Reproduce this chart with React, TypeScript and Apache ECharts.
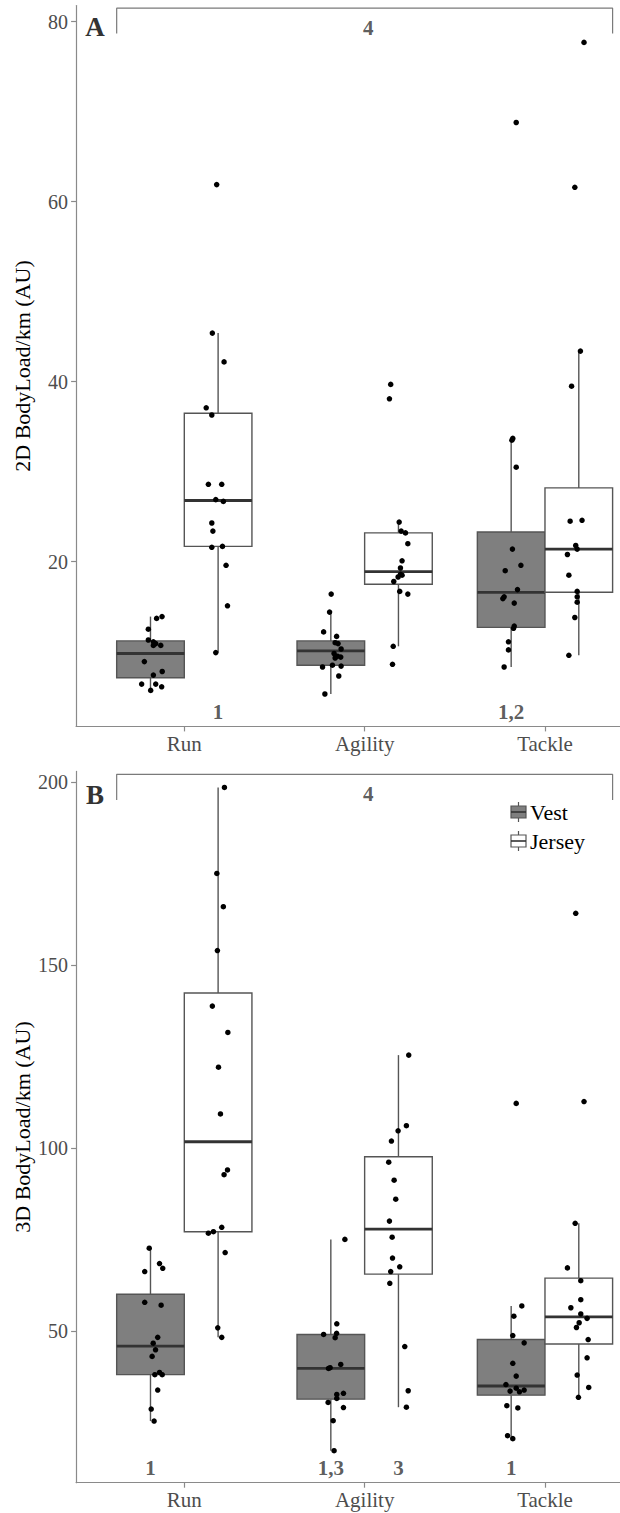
import React, { useEffect, useRef } from 'react';
import * as echarts from 'echarts';

const categories = ['Run', 'Agility', 'Tackle'];
const groupNames = ['Vest', 'Jersey'];
const yTicksA = [20, 40, 60, 80];
const yTicksB = [50, 100, 150, 200];
const xTickValues = [1, 2, 3];

// box stats per category: [lowerWhisker, q1, median, q3, upperWhisker]
const boxA_vest = [[5.7, 7.1, 9.8, 11.2, 13.9], [5.3, 8.5, 10.1, 11.2, 14.4], [8.3, 12.7, 16.6, 23.3, 33.7]];
const boxA_jersey = [[9.9, 21.7, 26.8, 36.5, 45.4], [10.6, 17.5, 18.9, 23.2, 24.4], [9.6, 16.6, 21.4, 28.2, 43.4]];
const boxB_vest = [[25.3, 38.0, 45.8, 60.0, 72.6], [17.2, 31.3, 39.7, 49.0, 75.0], [20.5, 32.4, 34.9, 47.6, 56.8]];
const boxB_jersey = [[48.2, 77.1, 101.7, 142.4, 198.6], [29.1, 65.5, 77.8, 97.6, 125.4], [31.8, 46.4, 53.8, 64.4, 79.4]];

// jittered points: [jitter (category units), value]
const ptsA_run_vest = [[0.034, 13.7], [0.064, 13.9], [-0.012, 12.5], [-0.012, 11.3], [0.016, 11.1], [0.029, 10.9], [0.057, 10.7], [0.016, 10.7], [-0.034, 8.9], [0.065, 7.8], [0.016, 7.4], [-0.049, 6.4], [0.029, 6.4], [0.062, 6.1], [0.001, 5.7]];
const ptsA_run_jersey = [[-0.032, 45.4], [0.033, 42.2], [-0.066, 37.1], [-0.035, 36.3], [-0.054, 28.6], [0.02, 28.6], [-0.013, 26.9], [0.029, 26.7], [-0.035, 24.3], [-0.029, 23.4], [-0.035, 21.6], [0.024, 21.7], [0.044, 19.6], [0.052, 15.1], [-0.013, 9.9], [-0.008, 61.9]];
const ptsA_agility_vest = [[0.002, 16.4], [-0.007, 14.4], [-0.04, 12.2], [0.032, 11.7], [0.024, 11.0], [0.04, 10.9], [0.057, 10.3], [0.018, 9.8], [0.037, 9.5], [0.055, 9.4], [0.024, 9.3], [-0.046, 8.3], [0.009, 8.5], [0.057, 8.4], [0.044, 7.3], [-0.033, 5.3]];
const ptsA_agility_jersey = [[-0.043, 39.7], [-0.05, 38.1], [0.004, 24.4], [0.015, 23.4], [0.039, 23.2], [0.052, 22.0], [0.02, 20.1], [0.011, 19.3], [0.011, 18.6], [-0.002, 18.3], [0.02, 18.5], [-0.026, 17.8], [0.007, 16.7], [0.052, 16.4], [-0.029, 10.6], [-0.033, 8.6]];
const ptsA_tackle_vest = [[0.028, 68.8], [0.004, 33.5], [0.009, 33.7], [0.028, 30.5], [0.007, 21.4], [-0.033, 19.0], [0.054, 19.6], [0.035, 16.9], [-0.039, 16.1], [-0.046, 15.9], [0.017, 15.4], [0.017, 12.85], [0.013, 12.6], [-0.015, 11.1], [-0.015, 10.2], [-0.039, 8.3]];
const ptsA_tackle_jersey = [[0.029, 77.7], [-0.022, 61.6], [0.009, 43.4], [-0.04, 39.5], [-0.048, 24.5], [0.018, 24.6], [-0.017, 21.8], [-0.009, 21.4], [-0.063, 20.8], [-0.055, 18.5], [-0.009, 16.7], [-0.009, 16.1], [-0.009, 15.5], [-0.022, 13.8], [-0.055, 9.6]];

const ptsB_run_vest = [[-0.007, 72.6], [-0.032, 66.2], [0.05, 68.4], [0.068, 67.1], [-0.032, 57.8], [0.059, 57.0], [0.04, 48.2], [0.015, 46.6], [0.028, 44.8], [0.009, 43.0], [0.024, 38.0], [0.05, 38.6], [0.065, 38.0], [0.04, 33.8], [0.004, 28.6], [0.02, 25.3]];
const ptsB_run_jersey = [[0.035, 198.6], [-0.007, 175.1], [0.029, 166.0], [-0.004, 154.0], [-0.032, 138.8], [0.054, 131.6], [0.002, 122.1], [0.013, 109.3], [0.052, 94.0], [0.033, 92.7], [-0.054, 76.7], [-0.026, 77.1], [0.02, 78.3], [0.039, 71.4], [-0.002, 50.8], [0.02, 48.2]];
const ptsB_agility_vest = [[0.078, 75.0], [0.033, 51.9], [-0.04, 49.0], [0.032, 49.3], [0.024, 48.1], [0.055, 40.8], [-0.013, 39.7], [-0.004, 39.9], [0.07, 32.9], [0.033, 32.6], [0.033, 31.5], [-0.015, 30.4], [0.07, 29.0], [0.013, 25.4], [0.018, 17.2]];
const ptsB_agility_jersey = [[0.057, 125.4], [0.044, 106.1], [-0.002, 104.7], [-0.039, 101.9], [-0.054, 96.1], [-0.024, 91.2], [-0.015, 86.0], [-0.05, 80.0], [-0.035, 75.6], [-0.033, 69.9], [0.007, 67.5], [-0.043, 66.2], [-0.048, 63.0], [0.035, 45.7], [0.054, 33.6], [0.044, 29.1]];
const ptsB_tackle_vest = [[0.028, 112.2], [0.059, 56.8], [0.015, 54.0], [0.009, 48.7], [0.072, 46.7], [0.009, 41.1], [0.028, 37.6], [-0.029, 35.3], [-0.006, 33.5], [0.028, 34.3], [0.046, 33.3], [0.072, 33.8], [-0.024, 29.5], [0.037, 28.9], [-0.02, 21.3], [0.009, 20.5]];
const ptsB_tackle_jersey = [[-0.017, 164.2], [0.029, 112.7], [-0.02, 79.4], [-0.063, 67.2], [0.011, 63.7], [0.011, 58.5], [-0.044, 56.3], [0.011, 54.6], [0.046, 53.4], [0.002, 52.2], [-0.013, 50.9], [0.052, 47.6], [0.046, 42.6], [-0.009, 37.9], [0.055, 34.5], [-0.002, 31.8]];

// significance annotations: [category, group, text]
const annotA = [['Run', 'Jersey', '1'], ['Tackle', 'Vest', '1,2']];
const annotB = [['Run', 'Vest', '1'], ['Agility', 'Vest', '1,3'], ['Agility', 'Jersey', '3'], ['Tackle', 'Vest', '1']];
const annotA_y = 3.3;
const annotB_y = 12.5;

// bracket spanning all groups: [left x, right x, top value, drop value, label value]
const bracketA = [0.625, 3.375, 81.5, 78.7, 79.3];
const bracketB = [0.625, 3.375, 202.2, 195.2, 196.8];
const bracketLabel = '4';

const yRangeA = [1.7, 81.8];
const yRangeB = [8.45, 203];
const xRange = [0.4, 3.416];

const DODGE = 0.1875;
const BOX_W = 0.375;
const SERIF = 'Liberation Serif';
const VEST_FILL = '#7f7f7f';
const BOX_LINE = '#555555';
const MED_LINE = '#333333';
const AXIS_COLOR = '#8a8a8a';

function sideOffset(g: string) {
  return g === 'Vest' ? -DODGE : DODGE;
}

function boxData(stats: number[][], group: string) {
  return stats.map((s, i) => [i + 1 + sideOffset(group), ...s]);
}

function pointData(lists: number[][][], group: string) {
  const out: number[][] = [];
  lists.forEach((pts, i) => {
    pts.forEach(([j, v]) => out.push([i + 1 + sideOffset(group) + j, v]));
  });
  return out;
}

function annotData(list: string[][], y: number) {
  return list.map(([c, g, t]) => [categories.indexOf(c) + 1 + sideOffset(g), y, t]);
}

function makeBoxRender(fill: string) {
  return (params: any, api: any) => {
    const x = api.value(0);
    const lo = api.coord([x, api.value(1)]);
    const q1 = api.coord([x, api.value(2)]);
    const med = api.coord([x, api.value(3)]);
    const q3 = api.coord([x, api.value(4)]);
    const hi = api.coord([x, api.value(5)]);
    const w = api.size([BOX_W, 0])[0];
    const cx = q3[0];
    return {
      type: 'group',
      children: [
        { type: 'line', shape: { x1: cx, y1: hi[1], x2: cx, y2: q3[1] }, style: { stroke: BOX_LINE, lineWidth: 1.4 } },
        { type: 'line', shape: { x1: cx, y1: q1[1], x2: cx, y2: lo[1] }, style: { stroke: BOX_LINE, lineWidth: 1.4 } },
        { type: 'rect', shape: { x: cx - w / 2, y: q3[1], width: w, height: q1[1] - q3[1] }, style: { fill, stroke: BOX_LINE, lineWidth: 1.4 } },
        { type: 'line', shape: { x1: cx - w / 2, y1: med[1], x2: cx + w / 2, y2: med[1] }, style: { stroke: MED_LINE, lineWidth: 2.8 } },
      ],
    };
  };
}

function panelSeries(idx: number, vest: number[][], jersey: number[][], ptsVest: number[][][], ptsJersey: number[][][], annot: string[][], annotY: number, bracket: number[]) {
  const common = { xAxisIndex: idx, yAxisIndex: idx };
  return [
    { ...common, type: 'custom', name: groupNames[0], renderItem: makeBoxRender(VEST_FILL), encode: { x: 0, y: [1, 2, 3, 4, 5] }, data: boxData(vest, 'Vest'), z: 2 },
    { ...common, type: 'custom', name: groupNames[1], renderItem: makeBoxRender('#ffffff'), encode: { x: 0, y: [1, 2, 3, 4, 5] }, data: boxData(jersey, 'Jersey'), z: 2 },
    { ...common, type: 'scatter', symbolSize: 5.5, itemStyle: { color: '#000000', opacity: 1 }, data: [...pointData(ptsVest, 'Vest'), ...pointData(ptsJersey, 'Jersey')], z: 4 },
    {
      ...common, type: 'line', symbol: 'none', lineStyle: { color: '#7a7a7a', width: 1.2 },
      data: [[bracket[0], bracket[3]], [bracket[0], bracket[2]], [bracket[1], bracket[2]], [bracket[1], bracket[3]]], z: 3,
    },
    {
      ...common, type: 'scatter', symbolSize: 0, z: 5,
      data: [...annotData(annot, annotY), [2.02, bracket[4], bracketLabel]],
      label: { show: true, position: 'inside', formatter: (p: any) => p.value[2], fontFamily: SERIF, fontWeight: 'bold', fontSize: 21, color: '#333333' },
    },
  ];
}

function xAxisCfg(idx: number) {
  return {
    type: 'value', gridIndex: idx, min: xRange[0], max: xRange[1],
    axisLine: { show: true, onZero: false, lineStyle: { color: AXIS_COLOR, width: 1.2 } },
    axisTick: { show: true, length: 5, customValues: xTickValues, lineStyle: { color: AXIS_COLOR, width: 1.2 } },
    axisLabel: { customValues: xTickValues, formatter: (v: number) => categories[Math.round(v) - 1] ?? '', fontFamily: SERIF, fontSize: 21, color: '#4d4d4d', margin: 7 },
    splitLine: { show: false },
  };
}

function yAxisCfg(idx: number, range: number[], ticks: number[]) {
  return {
    type: 'value', gridIndex: idx, min: range[0], max: range[1],
    axisLine: { show: true, onZero: false, lineStyle: { color: AXIS_COLOR, width: 1.2 } },
    axisTick: { show: true, length: 5, customValues: ticks, lineStyle: { color: AXIS_COLOR, width: 1.2 } },
    axisLabel: { customValues: ticks, fontFamily: SERIF, fontSize: 20, color: '#4d4d4d', margin: 8 },
    splitLine: { show: false },
  };
}

function legendKey(y: number, fill: string) {
  const x = 511, w = 15, cx = x + w / 2;
  return [
    { type: 'line', shape: { x1: cx, y1: y - 10, x2: cx, y2: y - 6 }, style: { stroke: BOX_LINE, lineWidth: 1.2 } },
    { type: 'line', shape: { x1: cx, y1: y + 6, x2: cx, y2: y + 10 }, style: { stroke: BOX_LINE, lineWidth: 1.2 } },
    { type: 'rect', shape: { x, y: y - 6, width: w, height: 12 }, style: { fill, stroke: BOX_LINE, lineWidth: 1.2 } },
    { type: 'line', shape: { x1: x, y1: y, x2: x + w, y2: y }, style: { stroke: MED_LINE, lineWidth: 1.6 } },
  ];
}

export default function App() {
  const ref = useRef<HTMLDivElement>(null);
  useEffect(() => {
    if (!ref.current) return;
    const chart = echarts.init(ref.current, undefined, { renderer: 'svg' });
    const option: any = {
      animation: false,
      backgroundColor: '#ffffff',
      grid: [
        { left: 76.1, top: 5.5, right: 0, height: 720.9 },
        { left: 76.1, top: 771.4, right: 0, height: 711.3 },
      ],
      xAxis: [xAxisCfg(0), xAxisCfg(1)],
      yAxis: [yAxisCfg(0, yRangeA, yTicksA), yAxisCfg(1, yRangeB, yTicksB)],
      series: [
        ...panelSeries(0, boxA_vest, boxA_jersey, [ptsA_run_vest, ptsA_agility_vest, ptsA_tackle_vest], [ptsA_run_jersey, ptsA_agility_jersey, ptsA_tackle_jersey], annotA, annotA_y, bracketA),
        ...panelSeries(1, boxB_vest, boxB_jersey, [ptsB_run_vest, ptsB_agility_vest, ptsB_tackle_vest], [ptsB_run_jersey, ptsB_agility_jersey, ptsB_tackle_jersey], annotB, annotB_y, bracketB),
      ],
      graphic: [
        { type: 'text', x: 95, y: 27, style: { text: 'A', fontFamily: SERIF, fontWeight: 'bold', fontSize: 27, fill: '#333333', textAlign: 'center', textVerticalAlign: 'middle' } },
        { type: 'text', x: 95, y: 795, style: { text: 'B', fontFamily: SERIF, fontWeight: 'bold', fontSize: 27, fill: '#333333', textAlign: 'center', textVerticalAlign: 'middle' } },
        { type: 'text', x: 22, y: 366, rotation: Math.PI / 2, style: { text: '2D BodyLoad/km (AU)', fontFamily: SERIF, fontSize: 22, fill: '#000000', textAlign: 'center', textVerticalAlign: 'middle' } },
        { type: 'text', x: 22, y: 1127, rotation: Math.PI / 2, style: { text: '3D BodyLoad/km (AU)', fontFamily: SERIF, fontSize: 22, fill: '#000000', textAlign: 'center', textVerticalAlign: 'middle' } },
        ...legendKey(812, VEST_FILL),
        ...legendKey(841, '#ffffff'),
        { type: 'text', x: 530, y: 812, style: { text: groupNames[0], fontFamily: SERIF, fontSize: 22, fill: '#000000', textAlign: 'left', textVerticalAlign: 'middle' } },
        { type: 'text', x: 530, y: 841, style: { text: groupNames[1], fontFamily: SERIF, fontSize: 22, fill: '#000000', textAlign: 'left', textVerticalAlign: 'middle' } },
      ],
    };
    chart.setOption(option);
    return () => chart.dispose();
  }, []);
  return <div ref={ref} style={{ position: 'absolute', left: 0, top: 0, width: 620, height: 1513 }} />;
}
